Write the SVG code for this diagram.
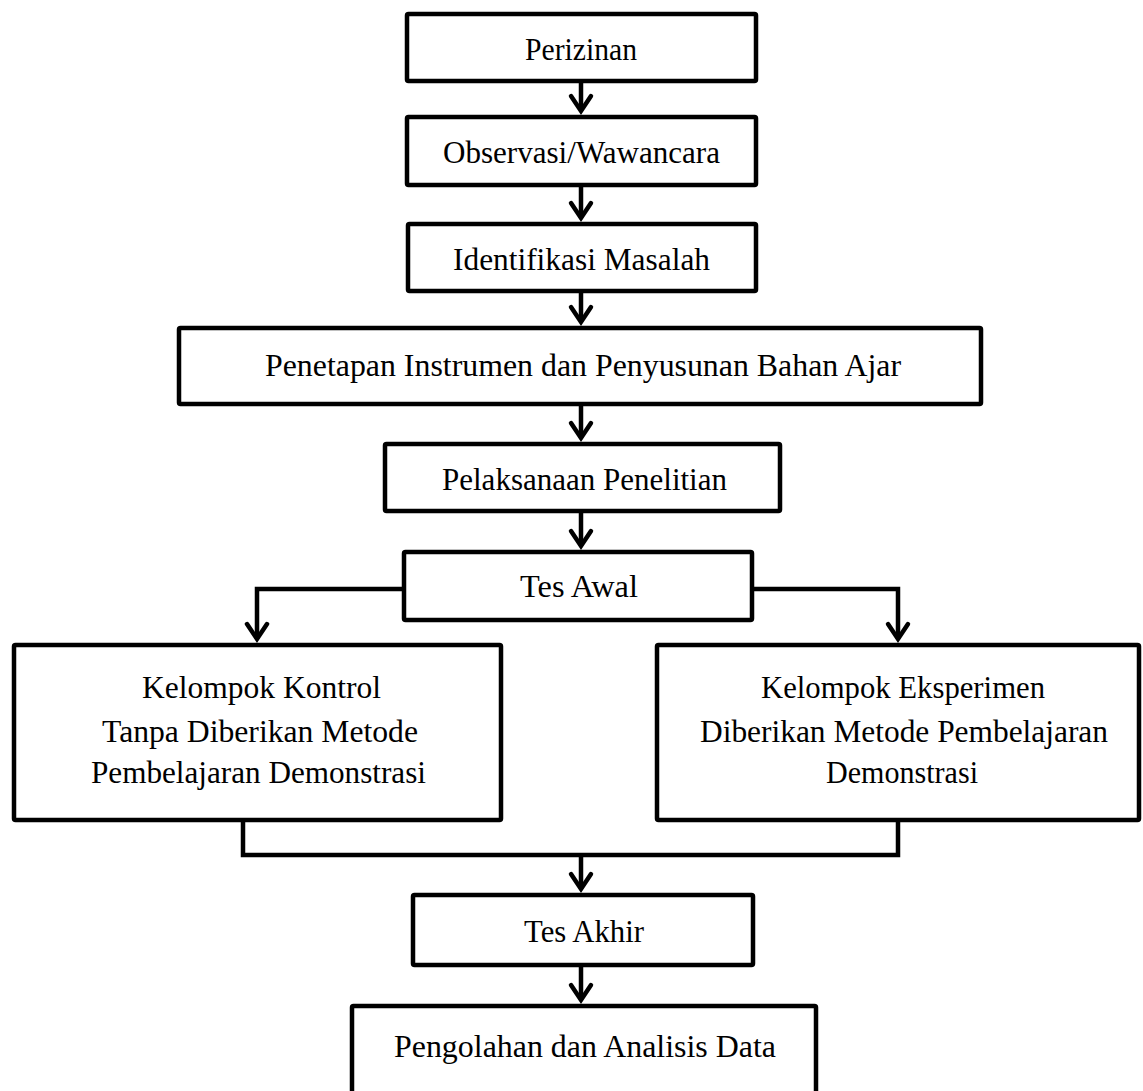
<svg xmlns="http://www.w3.org/2000/svg" width="1143" height="1091" viewBox="0 0 1143 1091">
<style>
.box{fill:#fff;stroke:#000;stroke-width:4.5;stroke-linejoin:round}
.t{font-size:32px;fill:#000;text-anchor:middle}
.c{fill:none;stroke:#000;stroke-width:4.5;stroke-linejoin:miter}
</style>
<defs>
<marker id="ah" markerUnits="userSpaceOnUse" markerWidth="40" markerHeight="40" viewBox="-20 -20 40 40" refX="0" refY="0" orient="auto" overflow="visible">
<path d="M -15 -10 L 0 0 L -15 10" fill="none" stroke="#000" stroke-width="4.5" stroke-linecap="round" stroke-linejoin="miter"/>
</marker>
</defs>
<rect width="1143" height="1091" fill="#fff"/>
<g id="connectors">
<path class="c" d="M581 83 V111" marker-end="url(#ah)"/>
<path class="c" d="M581 187 V218" marker-end="url(#ah)"/>
<path class="c" d="M581 293 V322" marker-end="url(#ah)"/>
<path class="c" d="M581 406 V438" marker-end="url(#ah)"/>
<path class="c" d="M581 513 V546" marker-end="url(#ah)"/>
<path class="c" d="M402 589 H257 V639" marker-end="url(#ah)"/>
<path class="c" d="M754 589 H898 V639" marker-end="url(#ah)"/>
<path class="c" d="M243 822 V855 H898 V822"/>
<path class="c" d="M581 855 V889" marker-end="url(#ah)"/>
<path class="c" d="M581 967 V1000" marker-end="url(#ah)"/>
</g>
<g font-family="'Liberation Serif', 'Times New Roman', serif">
<g id="n1"><rect class="box" x="407" y="14" width="349" height="67" rx="1.5"/><text class="t" x="581" y="60" textLength="112" lengthAdjust="spacingAndGlyphs">Perizinan</text></g>
<g id="n2"><rect class="box" x="407" y="117" width="349" height="68" rx="1.5"/><text class="t" x="581.5" y="163" textLength="277" lengthAdjust="spacingAndGlyphs">Observasi/Wawancara</text></g>
<g id="n3"><rect class="box" x="408" y="224" width="348" height="67" rx="1.5"/><text class="t" x="581.5" y="270" textLength="257" lengthAdjust="spacingAndGlyphs">Identifikasi  Masalah</text></g>
<g id="n4"><rect class="box" x="179" y="328" width="802" height="76" rx="1.5"/><text class="t" x="583" y="376" textLength="636" lengthAdjust="spacingAndGlyphs">Penetapan Instrumen  dan Penyusunan  Bahan Ajar</text></g>
<g id="n5"><rect class="box" x="385" y="444" width="395" height="67" rx="1.5"/><text class="t" x="584.5" y="490" textLength="285" lengthAdjust="spacingAndGlyphs">Pelaksanaan  Penelitian</text></g>
<g id="n6"><rect class="box" x="404" y="552" width="348" height="68" rx="1.5"/><text class="t" x="579" y="597" textLength="118" lengthAdjust="spacingAndGlyphs">Tes Awal</text></g>
<g id="n7"><rect class="box" x="14" y="645" width="487" height="175" rx="1.5"/>
<text class="t" x="261.5" y="698" textLength="239" lengthAdjust="spacingAndGlyphs">Kelompok  Kontrol</text>
<text class="t" x="260" y="742" textLength="316" lengthAdjust="spacingAndGlyphs">Tanpa Diberikan  Metode</text>
<text class="t" x="258.5" y="783" textLength="335" lengthAdjust="spacingAndGlyphs">Pembelajaran  Demonstrasi</text></g>
<g id="n8"><rect class="box" x="657" y="645" width="482" height="175" rx="1.5"/>
<text class="t" x="903" y="698" textLength="284" lengthAdjust="spacingAndGlyphs">Kelompok  Eksperimen</text>
<text class="t" x="904" y="742" textLength="408" lengthAdjust="spacingAndGlyphs">Diberikan  Metode Pembelajaran</text>
<text class="t" x="902" y="783" textLength="152" lengthAdjust="spacingAndGlyphs">Demonstrasi</text></g>
<g id="n9"><rect class="box" x="413" y="895" width="340" height="70" rx="1.5"/><text class="t" x="584" y="942" textLength="120" lengthAdjust="spacingAndGlyphs">Tes Akhir</text></g>
<g id="n10"><rect class="box" x="352" y="1006" width="464" height="130" rx="1.5"/><text class="t" x="585" y="1057" textLength="382" lengthAdjust="spacingAndGlyphs">Pengolahan  dan Analisis  Data</text></g>
</g>
</svg>
